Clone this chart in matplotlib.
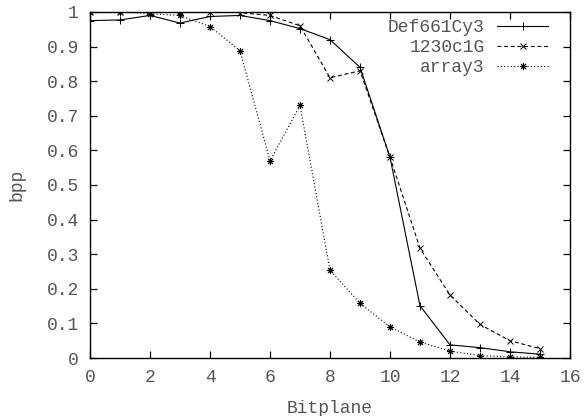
import matplotlib
matplotlib.use("Agg")
import matplotlib.pyplot as plt

# data
bitplane = list(range(16))
def661cy3 = [0.975, 0.977, 0.99, 0.968, 0.987, 0.99, 0.975, 0.952, 0.92, 0.84,
             0.58, 0.151, 0.038, 0.03, 0.018, 0.011]
c1230c1g = [1.0, 1.0, 1.0, 1.0, 1.0, 0.998, 0.99, 0.96, 0.81, 0.83,
            0.58, 0.317, 0.182, 0.097, 0.05, 0.027]
array3 = [1.0, 1.0, 0.995, 0.99, 0.958, 0.888, 0.57, 0.73, 0.254, 0.158,
          0.09, 0.046, 0.02, 0.007, 0.003, 0.002]

xticks = [0, 2, 4, 6, 8, 10, 12, 14, 16]
yticks = [0, 0.1, 0.2, 0.3, 0.4, 0.5, 0.6, 0.7, 0.8, 0.9, 1]
ylabels = ["0", "0.1", "0.2", "0.3", "0.4", "0.5", "0.6", "0.7", "0.8", "0.9", "1"]

plt.rcParams['font.family'] = ['Liberation Mono', 'DejaVu Sans Mono']
txt = "#555555"
fs = 13

fig = plt.figure(figsize=(5.86, 4.16), dpi=100)
ax = fig.add_axes([0.1536, 0.1394, 0.8191, 0.8318])

ax.plot(bitplane, def661cy3, color="black", lw=0.8, ls="-", marker="+",
        ms=5.5, mew=0.7, label="Def661Cy3")
ax.plot(bitplane, c1230c1g, color="black", lw=0.8, ls=(0, (3.5, 2.5)), marker="x",
        ms=4.5, mew=0.7, label="1230c1G")
ax.plot(bitplane, array3, color="black", lw=0.8, ls=(0, (1, 2)), marker=(8, 2, 0),
        ms=5, mew=0.7, label="array3")

ax.set_xlim(0, 16)
ax.set_ylim(0, 1)
ax.set_xticks(xticks)
ax.set_yticks(yticks)
ax.set_yticklabels(ylabels)
ax.tick_params(direction="in", top=True, right=True, length=5, width=0.9,
               labelsize=fs, labelcolor=txt)
ax.tick_params(axis="x", pad=8)
ax.tick_params(axis="y", pad=8)
for s in ax.spines.values():
    s.set_linewidth(1.0)

ax.set_xlabel("Bitplane", fontsize=fs, color=txt, labelpad=10)
ax.set_ylabel("bpp", fontsize=fs, color=txt, labelpad=15)

leg = ax.legend(loc="upper right", bbox_to_anchor=(1 - 22 / 480, 1 - 7 / 346),
                frameon=False, markerfirst=False, fontsize=fs,
                handlelength=2.8, labelspacing=0.17, borderaxespad=0,
                borderpad=0, handletextpad=0.7)
for t in leg.get_texts():
    t.set_color(txt)

fig.savefig("out.png", dpi=100)
